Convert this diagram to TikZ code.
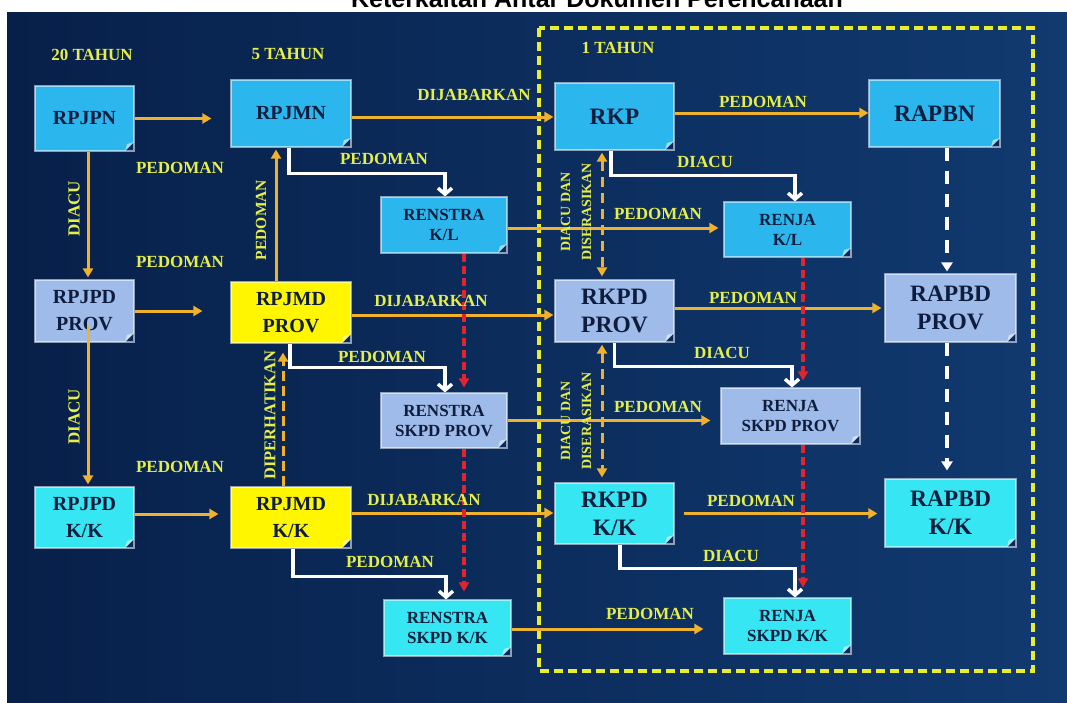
\documentclass[tikz,border=0pt]{standalone}
\usepackage{fontspec}
\setmainfont{Liberation Serif}
\newfontfamily\titlefont{Liberation Sans}
\usetikzlibrary{arrows.meta}

\definecolor{navyL}{HTML}{07204A}
\definecolor{navy}{HTML}{0B2B5E}
\definecolor{navyR}{HTML}{113A70}
\definecolor{skyb}{HTML}{2BB6EE}
\definecolor{peri}{HTML}{9FBBE9}
\definecolor{aqua}{HTML}{36E6F2}
\definecolor{docyel}{HTML}{FFF600}
\definecolor{ink}{HTML}{0E1D3D}
\definecolor{lblyel}{HTML}{E6EE4A}
\definecolor{arrorg}{HTML}{F0B22C}
\definecolor{reddash}{HTML}{E3232E}
\definecolor{frameyel}{HTML}{E8EE2C}

\newcommand\fnRp{\fontsize{20}{27}\selectfont\bfseries}
\newcommand\fnRk{\fontsize{23.5}{28}\selectfont\bfseries}
\newcommand\fnRen{\fontsize{17}{20}\selectfont\bfseries}
\newcommand\fnLbl{\fontsize{17}{20}\selectfont\bfseries}
\newcommand\fnSml{\fontsize{14}{21}\selectfont\bfseries}

\tikzset{
  doc/.style={draw=white, draw opacity=.55, line width=1.2pt, text=ink,
    align=center, inner sep=0pt,
    path picture={
      \fill[navy] (path picture bounding box.south east) -- ++(-9pt,0pt) -- ++(9pt,9pt) -- cycle;
      \fill[white, opacity=.55] ([xshift=-9pt]path picture bounding box.south east)
        -- ([yshift=9pt]path picture bounding box.south east)
        -- ([xshift=-7pt,yshift=7pt]path picture bounding box.south east) -- cycle;
    }},
  hdr/.style={text=lblyel, font=\fnLbl},
  lbl/.style={text=lblyel, font=\fnLbl, inner sep=0pt},
  yframe/.style={draw=frameyel, line width=3.5pt, dash pattern=on 9pt off 5pt},
  welb/.style={draw=white, line width=3.5pt, -{Straight Barb[length=6pt,width=14pt]}},
  wdash/.style={draw=white, line width=4pt, dash pattern=on 13pt off 10pt,
    -{Triangle[length=9pt,width=11pt]}},
  rdash/.style={draw=reddash, line width=3.5pt, dash pattern=on 8pt off 4pt,
    -{Triangle[length=9pt,width=10pt]}},
}

\begin{document}
\begin{tikzpicture}[x=1pt,y=-1pt]
\useasboundingbox (0,0) rectangle (1067,702);
\clip (0,0) rectangle (1067,702);
\fill[white] (0,0) rectangle (1067,702);
\shade[left color=navyL, middle color=navy, right color=navyR] (7,12) rectangle (1067,702);

% title, cut at the top edge
\node[font=\titlefont\bfseries\fontsize{25}{30}\selectfont, anchor=base] (ttl) at (597,7)
  {Keterkaitan Antar Dokumen Perencanaan};

% periods
\node[hdr] (t20) at (92,55) {20 TAHUN};
\node[hdr] (t5) at (288,54) {5 TAHUN};
\node[hdr] (t1) at (618,48) {1 TAHUN};

% one-year frame
\draw[yframe] (539,28) rectangle (1033,671);

\begin{scope}[every node/.style={doc}]
  % national
  \node[fill=skyb, font=\fnRp, minimum width=99pt, minimum height=65pt] (rpjpn) at (84.5,118.5) {RPJPN};
  \node[fill=skyb, font=\fnRp, minimum width=120pt, minimum height=67pt] (rpjmn) at (291,113.5) {RPJMN};
  \node[fill=skyb, font=\fnRen, minimum width=126pt, minimum height=56pt] (renkl) at (444,225) {RENSTRA\\K/L};
  \node[fill=skyb, font=\fnRk, minimum width=119pt, minimum height=67pt] (rkp) at (614.5,116.5) {RKP};
  \node[fill=skyb, font=\fnRen, minimum width=127pt, minimum height=55pt] (rjkl) at (787.5,229.5) {RENJA\\K/L};
  \node[fill=skyb, font=\fnRk, minimum width=131pt, minimum height=67pt] (rapbn) at (934.5,113.5) {RAPBN};
  % province
  \node[fill=peri, font=\fnRp, minimum width=99pt, minimum height=62pt] (rpjpdp) at (84.5,311) {RPJPD\\PROV};
  \node[fill=docyel, font=\fnRp, minimum width=120pt, minimum height=61pt] (rpjmdp) at (291,312.5) {RPJMD\\PROV};
  \node[fill=peri, font=\fnRen, minimum width=126pt, minimum height=55pt] (rensp) at (444,420.5) {RENSTRA\\SKPD PROV};
  \node[fill=peri, font=\fnRk, minimum width=119pt, minimum height=62pt] (rkpdp) at (614.5,311) {RKPD\\PROV};
  \node[fill=peri, font=\fnRen, minimum width=139pt, minimum height=56pt] (rjsp) at (790.5,416) {RENJA\\SKPD PROV};
  \node[fill=peri, font=\fnRk, minimum width=131pt, minimum height=68pt] (rapbdp) at (950.5,308) {RAPBD\\PROV};
  % kabupaten / kota
  \node[fill=aqua, font=\fnRp, minimum width=99pt, minimum height=61pt] (rpjpdk) at (84.5,517.5) {RPJPD\\K/K};
  \node[fill=docyel, font=\fnRp, minimum width=120pt, minimum height=61pt] (rpjmdk) at (291,517.5) {RPJMD\\K/K};
  \node[fill=aqua, font=\fnRen, minimum width=127pt, minimum height=56pt] (rensk) at (447.5,628) {RENSTRA\\SKPD K/K};
  \node[fill=aqua, font=\fnRk, minimum width=119pt, minimum height=61pt] (rkpdk) at (614.5,513.5) {RKPD\\K/K};
  \node[fill=aqua, font=\fnRen, minimum width=127pt, minimum height=56pt] (rjsk) at (787.5,626) {RENJA\\SKPD K/K};
  \node[fill=aqua, font=\fnRk, minimum width=131pt, minimum height=68pt] (rapbdk) at (950.5,513) {RAPBD\\K/K};
\end{scope}

% columns of the vertical links
\coordinate (colDiacu) at (88,0);
\coordinate (colPed) at (276,0);
\coordinate (colDip) at (283,0);
\coordinate (colDsr) at (602,0);
\coordinate (colWd) at (947,0);
\coordinate (colRedL) at (464,0);
\coordinate (colRedR) at (803,0);

\begin{scope}[>={Triangle[length=9pt,width=10pt]},
              every edge/.style={draw=arrorg, line width=3pt}]
  % horizontal
  \path [->] (rpjpn.east) edge[shorten >=19pt] (rpjpn.east -| rpjmn.west);
  \path [->] ([yshift=-3.5pt]rpjmn.east) edge[shorten >=1pt] ([yshift=-3.5pt]rpjmn.east -| rkp.west);
  \path [->] ([yshift=3.5pt]rkp.east) edge ([yshift=3.5pt]rkp.east -| rapbn.west);
  \path [->] ([yshift=-3pt]renkl.east) edge[shorten >=5pt] ([yshift=-3pt]renkl.east -| rjkl.west);

  \path [->] (rpjpdp.east) edge[shorten >=28pt] (rpjpdp.east -| rpjmdp.west);
  \path [->] ([yshift=-2.5pt]rpjmdp.east) edge[shorten >=1pt] ([yshift=-2.5pt]rpjmdp.east -| rkpdp.west);
  \path [->] ([yshift=3pt]rkpdp.east) edge[shorten >=3pt] ([yshift=3pt]rkpdp.east -| rapbdp.west);
  \path [->] (rensp.east) edge[shorten >=10pt] (rensp.east -| rjsp.west);

  \path [->] ([yshift=3.5pt]rpjpdk.east) edge[shorten >=12pt] ([yshift=3.5pt]rpjpdk.east -| rpjmdk.west);
  \path [->] ([yshift=4.5pt]rpjmdk.east) edge[shorten >=1pt] ([yshift=4.5pt]rpjmdk.east -| rkpdk.west);
  \path [->] (rkpdk.east) edge[shorten <=9pt, shorten >=7pt] (rkpdk.east -| rapbdk.west);
  \path [->] ([yshift=-1pt]rensk.east) edge[shorten >=20pt] ([yshift=-1pt]rensk.east -| rjsk.west);

  % vertical
  \path [->] (rpjpn.south -| colDiacu) edge[shorten >=2pt] (rpjpdp.north -| colDiacu);
  \path [->] ([yshift=-14pt]rpjpdp.center -| colDiacu) edge[shorten >=2pt] (rpjpdk.north -| colDiacu);
  \path [->] (rpjmdp.north -| colPed) edge[shorten >=2pt] (rpjmn.south -| colPed);

  % dashed
  \path [->] (rpjmdk.north -| colDip) edge[dash pattern=on 10pt off 5pt, shorten >=9pt] (rpjmdp.south -| colDip);
  \path [<->] (rkp.south -| colDsr) edge[dash pattern=on 10pt off 6pt, shorten <=2pt, shorten >=3pt] (rkpdp.north -| colDsr);
  \path [<->] (rkpdp.south -| colDsr) edge[dash pattern=on 10pt off 6pt, shorten <=2pt, shorten >=5pt] (rkpdk.north -| colDsr);
\end{scope}

% budget links
\draw[wdash, shorten >=2pt] (rapbn.south -| colWd) -- (rapbdp.north -| colWd);
\draw[wdash, shorten >=8pt] (rapbdp.south -| colWd) -- (rapbdk.north -| colWd);

% strategic plan to work plan
\draw[rdash, shorten >=5pt] (renkl.south -| colRedL) -- (rensp.north -| colRedL);
\draw[rdash, shorten >=8pt] (rensp.south -| colRedL) -- (rensk.north -| colRedL);
\draw[rdash, shorten >=7pt] (rjkl.south -| colRedR) -- (rjsp.north -| colRedR);
\draw[rdash, shorten >=10pt] (rjsp.south -| colRedR) -- (rjsk.north -| colRedR);

% white elbows
\draw[welb] ([xshift=-2pt]rpjmn.south) -- ++(0,26) -| ([xshift=1pt]renkl.north);
\draw[welb] ([xshift=-3.5pt]rkp.south) -- ++(0,25) -| ([xshift=7.5pt]rjkl.north);
\draw[welb] ([xshift=-1pt]rpjmdp.south) -- ++(0,24) -| ([xshift=1pt]rensp.north);
\draw[welb] (rkpdp.south) -- ++(0,24) -| ([xshift=1.5pt]rjsp.north);
\draw[welb] ([xshift=2pt]rpjmdk.south) -- ++(0,28) -| ([xshift=-1.5pt]rensk.north);
\draw[welb] ([xshift=5.5pt]rkpdk.south) -- ++(0,24) -| ([xshift=7.5pt]rjsk.north);

\begin{scope}[every node/.style={lbl}]
  % left column
  \node (lPed1) at (180,168) {PEDOMAN};
  \node[rotate=90] (lDiacu1) at (74,209) {DIACU};
  \node (lPed2) at (180,262) {PEDOMAN};
  \node[rotate=90] (lDiacu2) at (74,417) {DIACU};
  \node (lPed3) at (180,467) {PEDOMAN};
  \node[rotate=90, font=\fontsize{15.5}{18}\selectfont\bfseries] (lPedV) at (261,220) {PEDOMAN};
  \node[rotate=90, font=\fontsize{16.5}{18}\selectfont\bfseries] (lDip) at (270,415) {DIPERHATIKAN};
  % middle
  \node (lJab1) at (474,95) {DIJABARKAN};
  \node (lPed4) at (384,159) {PEDOMAN};
  \node (lJab2) at (431,301) {DIJABARKAN};
  \node (lPed5) at (382,357) {PEDOMAN};
  \node (lJab3) at (424,500) {DIJABARKAN};
  \node (lPed6) at (390,562) {PEDOMAN};
  % one-year frame
  \node (lPed7) at (763,102) {PEDOMAN};
  \node (lDiacu3) at (705,162) {DIACU};
  \node (lPed8) at (658,214) {PEDOMAN};
  \node[rotate=90, font=\fnSml, align=center] (lSer1) at (576,212) {DIACU DAN\\DISERASIKAN};
  \node (lPed9) at (753,298) {PEDOMAN};
  \node (lDiacu4) at (722,353) {DIACU};
  \node (lPed10) at (658,407) {PEDOMAN};
  \node[rotate=90, font=\fnSml, align=center] (lSer2) at (576,421) {DIACU DAN\\DISERASIKAN};
  \node (lPed11) at (751,501) {PEDOMAN};
  \node (lDiacu5) at (731,556) {DIACU};
  \node (lPed12) at (650,614) {PEDOMAN};
\end{scope}
\end{tikzpicture}
\end{document}
